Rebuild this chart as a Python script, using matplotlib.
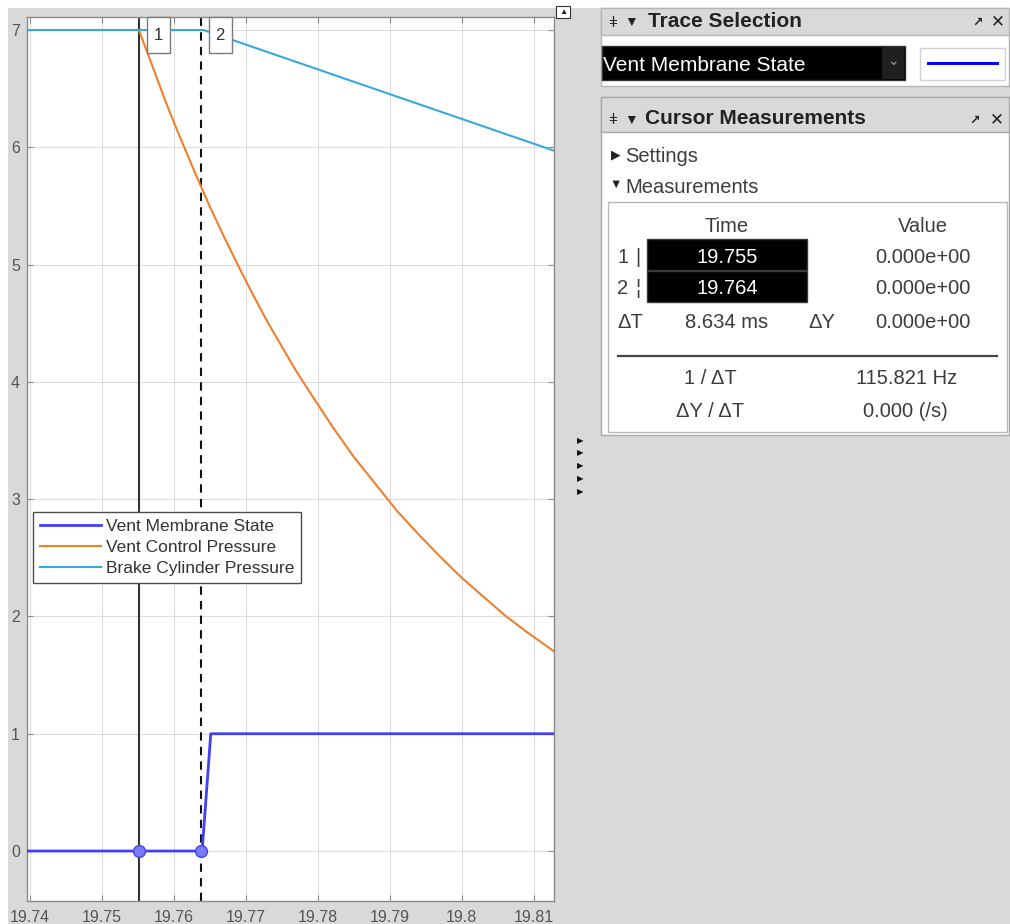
import matplotlib
matplotlib.use("Agg")
import matplotlib.pyplot as plt
from matplotlib.patches import Rectangle
from matplotlib.transforms import Affine2D

# ---- data ----
time_ticks = [19.74, 19.75, 19.76, 19.77, 19.78, 19.79, 19.80, 19.81]
time_tick_labels = ["19.74", "19.75", "19.76", "19.77", "19.78", "19.79", "19.8", "19.81"]
value_ticks = [0, 1, 2, 3, 4, 5, 6, 7]

membrane_t = [19.7395, 19.7639, 19.7651, 19.8129]
membrane_v = [0.0, 0.0, 1.0, 1.0]

control_t = [19.7395, 19.7551, 19.7570, 19.7590, 19.7610, 19.7630, 19.7650, 19.7670,
             19.7690, 19.7710, 19.7730, 19.7750, 19.7770, 19.7790, 19.7820, 19.7850,
             19.7880, 19.7910, 19.7940, 19.7970, 19.8000, 19.8030, 19.8060, 19.8090,
             19.8129]
control_v = [7.00, 7.00, 6.69, 6.36, 6.06, 5.77, 5.49, 5.23,
             4.98, 4.74, 4.51, 4.30, 4.09, 3.90, 3.62, 3.36,
             3.13, 2.90, 2.70, 2.51, 2.33, 2.17, 2.01, 1.87,
             1.70]

brake_t = [19.7395, 19.7641, 19.8129]
brake_v = [7.00, 7.00, 5.97]

cursor_times = [19.7551, 19.7637]
cursor_values = [0.0, 0.0]
cursor_labels = ["1", "2"]

series_names = ["Vent Membrane State", "Vent Control Pressure", "Brake Cylinder Pressure"]

W, H = 1010, 924
plt.rcParams["font.family"] = ["Liberation Sans", "DejaVu Sans"]

fig = plt.figure(figsize=(W / 100, H / 100), dpi=100, facecolor="#d9d9d9")
px = Affine2D().scale(1, -1).translate(0, H)  # pixel coords, origin top-left

TXT = "#3c3c3c"


def box(x0, y0, x1, y1, fc, ec="none", lw=0.0, z=1):
    r = Rectangle((x0, y0), x1 - x0, y1 - y0, facecolor=fc, edgecolor=ec,
                  linewidth=lw, transform=px, zorder=z)
    fig.add_artist(r)


def label(x, y, s, size=14.5, color=TXT, **kw):
    fig.text(x, y, s, transform=px, fontsize=size, color=color, **kw)


# white window strips at top and left
box(0, 0, W, 8, "white", z=-1)
box(0, 0, 8, H, "white", z=-1)

# ---- main plot ----
ax = fig.add_axes([27 / W, 1 - 901 / H, 527 / W, 884 / H])
ax.set_facecolor("white")

ax.plot(membrane_t, membrane_v, color="#4040f4", lw=2.0, label=series_names[0], zorder=4)
ax.plot(control_t, control_v, color="#f07f2d", lw=1.5, label=series_names[1], zorder=3)
ax.plot(brake_t, brake_v, color="#38a8dc", lw=1.5, label=series_names[2], zorder=3)

ax.axvline(cursor_times[0], color="#333333", lw=1.5, zorder=2)
ax.axvline(cursor_times[1], color="#111111", lw=1.5, ls=(0, (4, 3)), zorder=2)
ax.plot(cursor_times, cursor_values, "o", ms=8.5, mfc="#7b7bf5", mec="#4040f4",
        mew=1.0, zorder=5)

ax.set_xlim(19.73954, 19.81284)
ax.set_ylim(-0.426, 7.111)
ax.set_xticks(time_ticks)
ax.set_xticklabels(time_tick_labels)
ax.set_yticks(value_ticks)
ax.grid(color="#dcdcdc", lw=0.8)
ax.set_axisbelow(True)
ax.tick_params(direction="in", length=4, top=True, right=True, color="#8c8c8c",
               labelcolor="#555555", labelsize=11.5)
ax.tick_params(axis="x", pad=6.5)
ax.tick_params(axis="y", pad=5)
for s in ax.spines.values():
    s.set_color("#8c8c8c")
    s.set_linewidth(1.0)

leg = ax.legend(loc="lower left", bbox_to_anchor=(0.011, 0.36), fontsize=12.5,
                fancybox=False, edgecolor="#4d4d4d", handlelength=3.5,
                handletextpad=0.3, labelspacing=0.32, borderpad=0.4,
                borderaxespad=0, framealpha=1)
leg.get_frame().set_linewidth(1.0)
for t in leg.get_texts():
    t.set_color("#333333")

# cursor number tags at the top of the axes
for c, lab in zip(cursor_times, cursor_labels):
    xp = ax.transData.transform((c, 0))[0]
    box(xp + 8, 17, xp + 31, 53, "white", ec="#7a7a7a", lw=1.0, z=6)
    label(xp + 19.5, 36, lab, size=12, color="#333333", ha="center", va="center", zorder=7)

# small widget right of the plot
box(556, 6, 570, 18, "white", ec="#333333", lw=0.8)
label(563, 12, "▲", size=6, color="#222222", ha="center", va="center")
for yy in [442, 454, 467, 480, 493]:
    label(580, yy, "▶", size=6, color="#111111", ha="center", va="center")

# ---- Trace Selection panel ----
box(601, 8, 1009, 86, "white", ec="#b4b4b4", lw=1.0)
box(601, 8, 1009, 35, "#d9d9d9", ec="#b4b4b4", lw=1.0)
label(613, 27, "ǂ", size=11, color="#222222", ha="center", va="baseline")
label(631, 26, "▼", size=10, color="#222222", ha="center", va="baseline")
label(648, 26.7, "Trace Selection", size=15, color="#222222", weight="bold", va="baseline")
label(978, 26, "↗", size=9, color="#222222", ha="center", va="baseline", weight="bold")
label(998, 26.7, "✕", size=12, color="#222222", ha="center", va="baseline")
box(602, 46, 905, 80, "black", ec="#333333", lw=1.0)
box(882, 47, 904, 79, "#202020")
label(893, 61, "⌄", size=10, color="#9a9a9a", ha="center", va="center")
label(603, 70.7, series_names[0], size=15, color="white", va="baseline")
box(920, 48, 1005, 80, "white", ec="#d0d0d0", lw=1.0)
fig.add_artist(plt.Line2D([928, 997], [63, 63], color="#0000ff", lw=2.2, transform=px))

# ---- Cursor Measurements panel ----
box(601, 97, 1009, 435, "white", ec="#a8a8a8", lw=1.0)
box(601, 97, 1009, 132, "#d9d9d9", ec="#a8a8a8", lw=1.0)
label(613, 124, "ǂ", size=11, color="#222222", ha="center", va="baseline")
label(631, 123.5, "▼", size=10, color="#222222", ha="center", va="baseline")
label(645, 124.3, "Cursor Measurements", size=15, color="#222222", weight="bold", va="baseline")
label(975, 123.5, "↗", size=9, color="#222222", ha="center", va="baseline", weight="bold")
label(997, 124.3, "✕", size=12, color="#222222", ha="center", va="baseline")

label(616, 155, "▶", size=9, color="#222222", ha="center", va="center")
label(625, 162.3, "Settings", va="baseline")
label(616, 185, "▼", size=9, color="#222222", ha="center", va="center")
label(625, 192.7, "Measurements", va="baseline")

box(608, 202, 1007, 432, "white", ec="#b8b8b8", lw=1.0)
label(727, 231.7, "Time", ha="center", va="baseline")
label(923, 231.7, "Value", ha="center", va="baseline")

box(647, 239, 807, 270, "black", ec="#3a3a3a", lw=1.0)
box(647, 271, 807, 302, "black", ec="#3a3a3a", lw=1.0)
row_base = [262.7, 294.3]
for i, yb in enumerate(row_base):
    label(623, yb, cursor_labels[i], ha="center", va="baseline")
    label(638, yb, "|" if i == 0 else "¦", ha="center", va="baseline")
    label(727, yb, f"{cursor_times[i]:.3f}", color="white", ha="center", va="baseline")
    label(923, yb, f"{cursor_values[i]:.3e}", ha="center", va="baseline")

label(617, 327.7, "ΔT", va="baseline")
label(727, 327.7, "8.634 ms", ha="center", va="baseline")
label(822, 327.7, "ΔY", ha="center", va="baseline")
label(923, 327.7, "0.000e+00", ha="center", va="baseline")
fig.add_artist(plt.Line2D([618, 997], [356, 356], color="#444444", lw=1.6, transform=px))
label(710, 384.3, "1 / ΔT", ha="center", va="baseline")
label(907, 384.3, "115.821 Hz", ha="center", va="baseline")
label(710, 416.7, "ΔY / ΔT", ha="center", va="baseline")
label(905, 416.7, "0.000 (/s)", ha="center", va="baseline")

fig.savefig("out.png", dpi=100, facecolor=fig.get_facecolor())
